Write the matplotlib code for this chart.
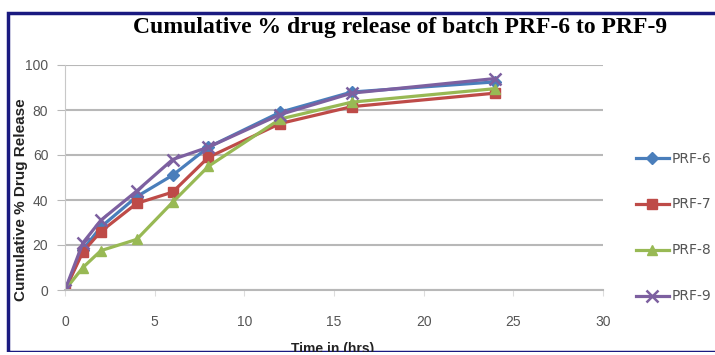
import matplotlib
matplotlib.use("Agg")
import matplotlib.pyplot as plt
from matplotlib.patches import Rectangle

time_hrs = [0, 1, 2, 4, 6, 8, 12, 16, 24]
prf6 = [0, 18, 28, 41.5, 51, 63.5, 79, 88, 92.5]
prf7 = [0, 17, 26, 38.5, 43.5, 59, 74, 81.5, 87.5]
prf8 = [0, 10, 17.5, 22.5, 39, 55, 76, 83.5, 89.5]
prf9 = [0, 21, 31, 44, 58, 63.5, 78, 87.5, 94]
series_names = ["PRF-6", "PRF-7", "PRF-8", "PRF-9"]
x_ticks = [0, 5, 10, 15, 20, 25, 30]
y_ticks = [0, 20, 40, 60, 80, 100]

colors = ["#4a7ebb", "#be4b48", "#98b954", "#7d60a0"]
markers = ["D", "s", "^", "x"]
msizes = [6, 7, 7, 8]

fig = plt.figure(figsize=(7.15, 3.55), dpi=100)
fig.patch.set_facecolor("white")

ax = fig.add_axes([65/715, 1-290/355, (603-65)/715, (290-65)/355])
for name, vals, c, m, ms in zip(series_names, [prf6, prf7, prf8, prf9], colors, markers, msizes):
    ax.plot(time_hrs, vals, color=c, marker=m, markersize=ms, linewidth=2.3,
            markeredgewidth=1.8 if m == "x" else 1, label=name)

ax.set_xlim(0, 30)
ax.set_ylim(0, 100)
ax.set_xticks(x_ticks)
ax.set_yticks(y_ticks)
ax.grid(axis="y", color="#b8b8b8", linewidth=1.5)
ax.set_axisbelow(True)
for s in ["top", "right"]:
    ax.spines[s].set_visible(False)
ax.spines["left"].set_color("#c8c8c8")
ax.spines["bottom"].set_color("#b8b8b8")
ax.spines["bottom"].set_linewidth(1.5)
ax.tick_params(axis="x", length=4, color="#dddddd", pad=14, labelsize=10, labelcolor="#555555")
ax.tick_params(axis="y", length=6, color="#b8b8b8", pad=6, labelsize=10, labelcolor="#555555")
for lab in ax.get_xticklabels() + ax.get_yticklabels():
    lab.set_family("Liberation Sans")

leg = ax.legend(loc="upper left", bbox_to_anchor=(630/715, 1-146/355), bbox_transform=fig.transFigure,
                frameon=False, fontsize=10, labelspacing=2.3, handlelength=2.4, handletextpad=0.2,
                borderaxespad=0)
for t in leg.get_texts():
    t.set_color("#555555")

fig.text(400/715, 1-27/355, "Cumulative % drug release of batch PRF-6 to PRF-9",
         family="Liberation Serif", fontweight="bold", fontsize=17, ha="center", va="center")
fig.text(21/715, 1-200/355, "Cumulative % Drug Release", rotation=90, fontweight="bold",
         fontsize=11, ha="center", va="center", color="#222222", family="Liberation Sans")
fig.text(333/715, 1-349/355, "Time in (hrs)", fontweight="bold", fontsize=10,
         ha="center", va="center", color="#222222", family="Liberation Sans")

fig.patches.append(Rectangle((8/715, 3/355), 1.0, (352-13)/355 , transform=fig.transFigure,
                             fill=False, edgecolor="#1a1a80", linewidth=2.5, clip_on=False))
fig.patches.append(Rectangle((0, 0), 1.0, 3/355, transform=fig.transFigure,
                             facecolor="white", edgecolor="none", zorder=5))

fig.savefig("out.png", dpi=100)
